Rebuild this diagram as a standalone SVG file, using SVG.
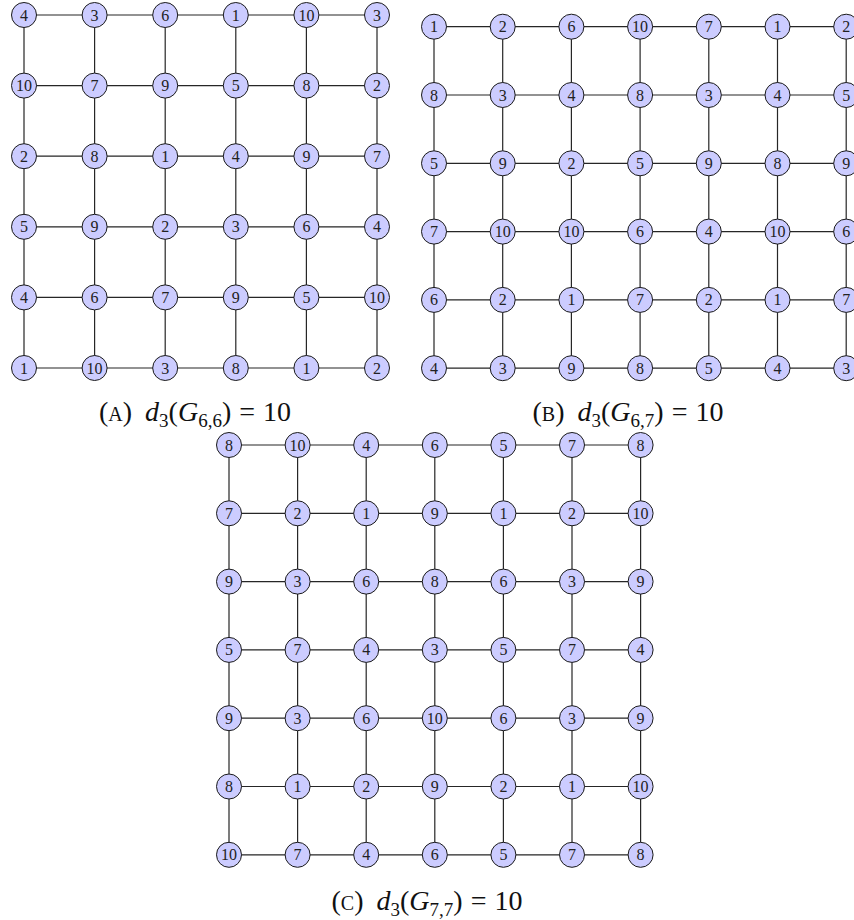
<svg xmlns="http://www.w3.org/2000/svg" width="854" height="920" viewBox="0 0 854 920">
<style>
.e{stroke:#262626;stroke-width:1.2;fill:none}
.n circle{fill:#ccccff;stroke:#1a1a1a;stroke-width:1}
.n text{font-family:"Liberation Serif","DejaVu Serif",serif;font-size:16px;text-anchor:middle;fill:#222}
.cap{font-family:"Liberation Serif","DejaVu Serif",serif;font-size:28px;text-anchor:middle;fill:#111}
.it{font-style:italic}
.sub{font-size:19px}
.sc{font-size:20px}
</style>
<g id="connectors">
<path class="e" d="M24 15H377M24 85.6H377M24 156.2H377M24 226.8H377M24 297.4H377M24 368H377M24 15V368M94.6 15V368M165.2 15V368M235.8 15V368M306.4 15V368M377 15V368"/>
<path class="e" d="M434 26.7H846.2M434 95H846.2M434 163.3H846.2M434 231.6H846.2M434 299.9H846.2M434 368.2H846.2M434 26.7V368.2M502.7 26.7V368.2M571.4 26.7V368.2M640.1 26.7V368.2M708.8 26.7V368.2M777.5 26.7V368.2M846.2 26.7V368.2"/>
<path class="e" d="M229 445H640.6M229 513.3H640.6M229 581.6H640.6M229 649.9H640.6M229 718.2H640.6M229 786.5H640.6M229 854.8H640.6M229 445V854.8M297.6 445V854.8M366.2 445V854.8M434.8 445V854.8M503.4 445V854.8M572 445V854.8M640.6 445V854.8"/>
</g>
<g id="gridA">
<g id="a00" class="n" transform="translate(24,15)"><circle r="12.5"/><text y="5.5">4</text></g>
<g id="a01" class="n" transform="translate(94.6,15)"><circle r="12.5"/><text y="5.5">3</text></g>
<g id="a02" class="n" transform="translate(165.2,15)"><circle r="12.5"/><text y="5.5">6</text></g>
<g id="a03" class="n" transform="translate(235.8,15)"><circle r="12.5"/><text y="5.5">1</text></g>
<g id="a04" class="n" transform="translate(306.4,15)"><circle r="12.5"/><text y="5.5">10</text></g>
<g id="a05" class="n" transform="translate(377,15)"><circle r="12.5"/><text y="5.5">3</text></g>
<g id="a10" class="n" transform="translate(24,85.6)"><circle r="12.5"/><text y="5.5">10</text></g>
<g id="a11" class="n" transform="translate(94.6,85.6)"><circle r="12.5"/><text y="5.5">7</text></g>
<g id="a12" class="n" transform="translate(165.2,85.6)"><circle r="12.5"/><text y="5.5">9</text></g>
<g id="a13" class="n" transform="translate(235.8,85.6)"><circle r="12.5"/><text y="5.5">5</text></g>
<g id="a14" class="n" transform="translate(306.4,85.6)"><circle r="12.5"/><text y="5.5">8</text></g>
<g id="a15" class="n" transform="translate(377,85.6)"><circle r="12.5"/><text y="5.5">2</text></g>
<g id="a20" class="n" transform="translate(24,156.2)"><circle r="12.5"/><text y="5.5">2</text></g>
<g id="a21" class="n" transform="translate(94.6,156.2)"><circle r="12.5"/><text y="5.5">8</text></g>
<g id="a22" class="n" transform="translate(165.2,156.2)"><circle r="12.5"/><text y="5.5">1</text></g>
<g id="a23" class="n" transform="translate(235.8,156.2)"><circle r="12.5"/><text y="5.5">4</text></g>
<g id="a24" class="n" transform="translate(306.4,156.2)"><circle r="12.5"/><text y="5.5">9</text></g>
<g id="a25" class="n" transform="translate(377,156.2)"><circle r="12.5"/><text y="5.5">7</text></g>
<g id="a30" class="n" transform="translate(24,226.8)"><circle r="12.5"/><text y="5.5">5</text></g>
<g id="a31" class="n" transform="translate(94.6,226.8)"><circle r="12.5"/><text y="5.5">9</text></g>
<g id="a32" class="n" transform="translate(165.2,226.8)"><circle r="12.5"/><text y="5.5">2</text></g>
<g id="a33" class="n" transform="translate(235.8,226.8)"><circle r="12.5"/><text y="5.5">3</text></g>
<g id="a34" class="n" transform="translate(306.4,226.8)"><circle r="12.5"/><text y="5.5">6</text></g>
<g id="a35" class="n" transform="translate(377,226.8)"><circle r="12.5"/><text y="5.5">4</text></g>
<g id="a40" class="n" transform="translate(24,297.4)"><circle r="12.5"/><text y="5.5">4</text></g>
<g id="a41" class="n" transform="translate(94.6,297.4)"><circle r="12.5"/><text y="5.5">6</text></g>
<g id="a42" class="n" transform="translate(165.2,297.4)"><circle r="12.5"/><text y="5.5">7</text></g>
<g id="a43" class="n" transform="translate(235.8,297.4)"><circle r="12.5"/><text y="5.5">9</text></g>
<g id="a44" class="n" transform="translate(306.4,297.4)"><circle r="12.5"/><text y="5.5">5</text></g>
<g id="a45" class="n" transform="translate(377,297.4)"><circle r="12.5"/><text y="5.5">10</text></g>
<g id="a50" class="n" transform="translate(24,368)"><circle r="12.5"/><text y="5.5">1</text></g>
<g id="a51" class="n" transform="translate(94.6,368)"><circle r="12.5"/><text y="5.5">10</text></g>
<g id="a52" class="n" transform="translate(165.2,368)"><circle r="12.5"/><text y="5.5">3</text></g>
<g id="a53" class="n" transform="translate(235.8,368)"><circle r="12.5"/><text y="5.5">8</text></g>
<g id="a54" class="n" transform="translate(306.4,368)"><circle r="12.5"/><text y="5.5">1</text></g>
<g id="a55" class="n" transform="translate(377,368)"><circle r="12.5"/><text y="5.5">2</text></g>
</g>
<g id="gridB">
<g id="b00" class="n" transform="translate(434,26.7)"><circle r="12.5"/><text y="5.5">1</text></g>
<g id="b01" class="n" transform="translate(502.7,26.7)"><circle r="12.5"/><text y="5.5">2</text></g>
<g id="b02" class="n" transform="translate(571.4,26.7)"><circle r="12.5"/><text y="5.5">6</text></g>
<g id="b03" class="n" transform="translate(640.1,26.7)"><circle r="12.5"/><text y="5.5">10</text></g>
<g id="b04" class="n" transform="translate(708.8,26.7)"><circle r="12.5"/><text y="5.5">7</text></g>
<g id="b05" class="n" transform="translate(777.5,26.7)"><circle r="12.5"/><text y="5.5">1</text></g>
<g id="b06" class="n" transform="translate(846.2,26.7)"><circle r="12.5"/><text y="5.5">2</text></g>
<g id="b10" class="n" transform="translate(434,95)"><circle r="12.5"/><text y="5.5">8</text></g>
<g id="b11" class="n" transform="translate(502.7,95)"><circle r="12.5"/><text y="5.5">3</text></g>
<g id="b12" class="n" transform="translate(571.4,95)"><circle r="12.5"/><text y="5.5">4</text></g>
<g id="b13" class="n" transform="translate(640.1,95)"><circle r="12.5"/><text y="5.5">8</text></g>
<g id="b14" class="n" transform="translate(708.8,95)"><circle r="12.5"/><text y="5.5">3</text></g>
<g id="b15" class="n" transform="translate(777.5,95)"><circle r="12.5"/><text y="5.5">4</text></g>
<g id="b16" class="n" transform="translate(846.2,95)"><circle r="12.5"/><text y="5.5">5</text></g>
<g id="b20" class="n" transform="translate(434,163.3)"><circle r="12.5"/><text y="5.5">5</text></g>
<g id="b21" class="n" transform="translate(502.7,163.3)"><circle r="12.5"/><text y="5.5">9</text></g>
<g id="b22" class="n" transform="translate(571.4,163.3)"><circle r="12.5"/><text y="5.5">2</text></g>
<g id="b23" class="n" transform="translate(640.1,163.3)"><circle r="12.5"/><text y="5.5">5</text></g>
<g id="b24" class="n" transform="translate(708.8,163.3)"><circle r="12.5"/><text y="5.5">9</text></g>
<g id="b25" class="n" transform="translate(777.5,163.3)"><circle r="12.5"/><text y="5.5">8</text></g>
<g id="b26" class="n" transform="translate(846.2,163.3)"><circle r="12.5"/><text y="5.5">9</text></g>
<g id="b30" class="n" transform="translate(434,231.6)"><circle r="12.5"/><text y="5.5">7</text></g>
<g id="b31" class="n" transform="translate(502.7,231.6)"><circle r="12.5"/><text y="5.5">10</text></g>
<g id="b32" class="n" transform="translate(571.4,231.6)"><circle r="12.5"/><text y="5.5">10</text></g>
<g id="b33" class="n" transform="translate(640.1,231.6)"><circle r="12.5"/><text y="5.5">6</text></g>
<g id="b34" class="n" transform="translate(708.8,231.6)"><circle r="12.5"/><text y="5.5">4</text></g>
<g id="b35" class="n" transform="translate(777.5,231.6)"><circle r="12.5"/><text y="5.5">10</text></g>
<g id="b36" class="n" transform="translate(846.2,231.6)"><circle r="12.5"/><text y="5.5">6</text></g>
<g id="b40" class="n" transform="translate(434,299.9)"><circle r="12.5"/><text y="5.5">6</text></g>
<g id="b41" class="n" transform="translate(502.7,299.9)"><circle r="12.5"/><text y="5.5">2</text></g>
<g id="b42" class="n" transform="translate(571.4,299.9)"><circle r="12.5"/><text y="5.5">1</text></g>
<g id="b43" class="n" transform="translate(640.1,299.9)"><circle r="12.5"/><text y="5.5">7</text></g>
<g id="b44" class="n" transform="translate(708.8,299.9)"><circle r="12.5"/><text y="5.5">2</text></g>
<g id="b45" class="n" transform="translate(777.5,299.9)"><circle r="12.5"/><text y="5.5">1</text></g>
<g id="b46" class="n" transform="translate(846.2,299.9)"><circle r="12.5"/><text y="5.5">7</text></g>
<g id="b50" class="n" transform="translate(434,368.2)"><circle r="12.5"/><text y="5.5">4</text></g>
<g id="b51" class="n" transform="translate(502.7,368.2)"><circle r="12.5"/><text y="5.5">3</text></g>
<g id="b52" class="n" transform="translate(571.4,368.2)"><circle r="12.5"/><text y="5.5">9</text></g>
<g id="b53" class="n" transform="translate(640.1,368.2)"><circle r="12.5"/><text y="5.5">8</text></g>
<g id="b54" class="n" transform="translate(708.8,368.2)"><circle r="12.5"/><text y="5.5">5</text></g>
<g id="b55" class="n" transform="translate(777.5,368.2)"><circle r="12.5"/><text y="5.5">4</text></g>
<g id="b56" class="n" transform="translate(846.2,368.2)"><circle r="12.5"/><text y="5.5">3</text></g>
</g>
<g id="gridC">
<g id="c00" class="n" transform="translate(229,445)"><circle r="12.5"/><text y="5.5">8</text></g>
<g id="c01" class="n" transform="translate(297.6,445)"><circle r="12.5"/><text y="5.5">10</text></g>
<g id="c02" class="n" transform="translate(366.2,445)"><circle r="12.5"/><text y="5.5">4</text></g>
<g id="c03" class="n" transform="translate(434.8,445)"><circle r="12.5"/><text y="5.5">6</text></g>
<g id="c04" class="n" transform="translate(503.4,445)"><circle r="12.5"/><text y="5.5">5</text></g>
<g id="c05" class="n" transform="translate(572,445)"><circle r="12.5"/><text y="5.5">7</text></g>
<g id="c06" class="n" transform="translate(640.6,445)"><circle r="12.5"/><text y="5.5">8</text></g>
<g id="c10" class="n" transform="translate(229,513.3)"><circle r="12.5"/><text y="5.5">7</text></g>
<g id="c11" class="n" transform="translate(297.6,513.3)"><circle r="12.5"/><text y="5.5">2</text></g>
<g id="c12" class="n" transform="translate(366.2,513.3)"><circle r="12.5"/><text y="5.5">1</text></g>
<g id="c13" class="n" transform="translate(434.8,513.3)"><circle r="12.5"/><text y="5.5">9</text></g>
<g id="c14" class="n" transform="translate(503.4,513.3)"><circle r="12.5"/><text y="5.5">1</text></g>
<g id="c15" class="n" transform="translate(572,513.3)"><circle r="12.5"/><text y="5.5">2</text></g>
<g id="c16" class="n" transform="translate(640.6,513.3)"><circle r="12.5"/><text y="5.5">10</text></g>
<g id="c20" class="n" transform="translate(229,581.6)"><circle r="12.5"/><text y="5.5">9</text></g>
<g id="c21" class="n" transform="translate(297.6,581.6)"><circle r="12.5"/><text y="5.5">3</text></g>
<g id="c22" class="n" transform="translate(366.2,581.6)"><circle r="12.5"/><text y="5.5">6</text></g>
<g id="c23" class="n" transform="translate(434.8,581.6)"><circle r="12.5"/><text y="5.5">8</text></g>
<g id="c24" class="n" transform="translate(503.4,581.6)"><circle r="12.5"/><text y="5.5">6</text></g>
<g id="c25" class="n" transform="translate(572,581.6)"><circle r="12.5"/><text y="5.5">3</text></g>
<g id="c26" class="n" transform="translate(640.6,581.6)"><circle r="12.5"/><text y="5.5">9</text></g>
<g id="c30" class="n" transform="translate(229,649.9)"><circle r="12.5"/><text y="5.5">5</text></g>
<g id="c31" class="n" transform="translate(297.6,649.9)"><circle r="12.5"/><text y="5.5">7</text></g>
<g id="c32" class="n" transform="translate(366.2,649.9)"><circle r="12.5"/><text y="5.5">4</text></g>
<g id="c33" class="n" transform="translate(434.8,649.9)"><circle r="12.5"/><text y="5.5">3</text></g>
<g id="c34" class="n" transform="translate(503.4,649.9)"><circle r="12.5"/><text y="5.5">5</text></g>
<g id="c35" class="n" transform="translate(572,649.9)"><circle r="12.5"/><text y="5.5">7</text></g>
<g id="c36" class="n" transform="translate(640.6,649.9)"><circle r="12.5"/><text y="5.5">4</text></g>
<g id="c40" class="n" transform="translate(229,718.2)"><circle r="12.5"/><text y="5.5">9</text></g>
<g id="c41" class="n" transform="translate(297.6,718.2)"><circle r="12.5"/><text y="5.5">3</text></g>
<g id="c42" class="n" transform="translate(366.2,718.2)"><circle r="12.5"/><text y="5.5">6</text></g>
<g id="c43" class="n" transform="translate(434.8,718.2)"><circle r="12.5"/><text y="5.5">10</text></g>
<g id="c44" class="n" transform="translate(503.4,718.2)"><circle r="12.5"/><text y="5.5">6</text></g>
<g id="c45" class="n" transform="translate(572,718.2)"><circle r="12.5"/><text y="5.5">3</text></g>
<g id="c46" class="n" transform="translate(640.6,718.2)"><circle r="12.5"/><text y="5.5">9</text></g>
<g id="c50" class="n" transform="translate(229,786.5)"><circle r="12.5"/><text y="5.5">8</text></g>
<g id="c51" class="n" transform="translate(297.6,786.5)"><circle r="12.5"/><text y="5.5">1</text></g>
<g id="c52" class="n" transform="translate(366.2,786.5)"><circle r="12.5"/><text y="5.5">2</text></g>
<g id="c53" class="n" transform="translate(434.8,786.5)"><circle r="12.5"/><text y="5.5">9</text></g>
<g id="c54" class="n" transform="translate(503.4,786.5)"><circle r="12.5"/><text y="5.5">2</text></g>
<g id="c55" class="n" transform="translate(572,786.5)"><circle r="12.5"/><text y="5.5">1</text></g>
<g id="c56" class="n" transform="translate(640.6,786.5)"><circle r="12.5"/><text y="5.5">10</text></g>
<g id="c60" class="n" transform="translate(229,854.8)"><circle r="12.5"/><text y="5.5">10</text></g>
<g id="c61" class="n" transform="translate(297.6,854.8)"><circle r="12.5"/><text y="5.5">7</text></g>
<g id="c62" class="n" transform="translate(366.2,854.8)"><circle r="12.5"/><text y="5.5">4</text></g>
<g id="c63" class="n" transform="translate(434.8,854.8)"><circle r="12.5"/><text y="5.5">6</text></g>
<g id="c64" class="n" transform="translate(503.4,854.8)"><circle r="12.5"/><text y="5.5">5</text></g>
<g id="c65" class="n" transform="translate(572,854.8)"><circle r="12.5"/><text y="5.5">7</text></g>
<g id="c66" class="n" transform="translate(640.6,854.8)"><circle r="12.5"/><text y="5.5">8</text></g>
</g>
<g id="captions">
<text class="cap" x="195" y="421">(<tspan class="sc">A</tspan>)<tspan class="it" dx="13">d</tspan><tspan class="sub" dy="6">3</tspan><tspan dy="-6">(</tspan><tspan class="it">G</tspan><tspan class="sub" dy="6">6,6</tspan><tspan dy="-6">)</tspan><tspan dx="8">=</tspan><tspan dx="8">10</tspan></text>
<text class="cap" x="628" y="421">(<tspan class="sc">B</tspan>)<tspan class="it" dx="13">d</tspan><tspan class="sub" dy="6">3</tspan><tspan dy="-6">(</tspan><tspan class="it">G</tspan><tspan class="sub" dy="6">6,7</tspan><tspan dy="-6">)</tspan><tspan dx="8">=</tspan><tspan dx="8">10</tspan></text>
<text class="cap" x="427" y="910">(<tspan class="sc">C</tspan>)<tspan class="it" dx="13">d</tspan><tspan class="sub" dy="6">3</tspan><tspan dy="-6">(</tspan><tspan class="it">G</tspan><tspan class="sub" dy="6">7,7</tspan><tspan dy="-6">)</tspan><tspan dx="8">=</tspan><tspan dx="8">10</tspan></text>
</g>
</svg>
